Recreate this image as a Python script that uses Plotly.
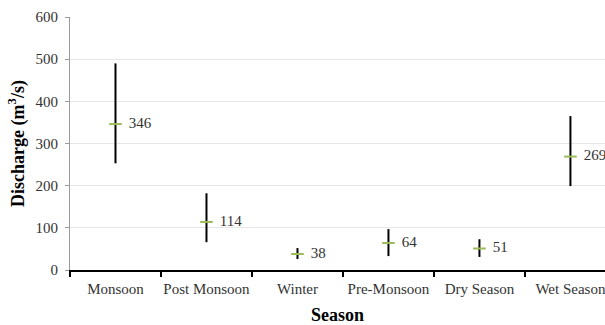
import plotly.graph_objects as go

seasons = ["Monsoon", "Post Monsoon", "Winter", "Pre-Monsoon", "Dry Season", "Wet Season"]
mean_q = [346, 114, 38, 64, 51, 269]
upper_q = [490, 182, 52, 97, 73, 365]
lower_q = [253, 66, 26, 33, 31, 199]

err_plus = [u - m for u, m in zip(upper_q, mean_q)]
err_minus = [m - l for m, l in zip(mean_q, lower_q)]

FONT = "Liberation Serif"

fig = go.Figure()
fig.add_trace(go.Scatter(
    x=seasons, y=mean_q,
    mode="markers+text",
    text=["\u2009 " + str(v) for v in mean_q],
    textposition="middle right",
    textfont=dict(family=FONT, size=15, color="#333333"),
    marker=dict(symbol="line-ew", size=9, line=dict(color="#9BBB59", width=2)),
    error_y=dict(type="data", symmetric=False, array=err_plus, arrayminus=err_minus,
                 color="black", thickness=2, width=0),
    showlegend=False,
    cliponaxis=False,
))

fig.update_layout(
    width=605, height=325,
    margin=dict(l=70, r=0, t=17, b=55),
    plot_bgcolor="white", paper_bgcolor="white",
    font=dict(family=FONT, size=15, color="#333333"),
    xaxis=dict(
        range=[-0.5, 5.38],
        tickson="boundaries",
        tickangle=0,
        ticks="outside", ticklen=5, tickcolor="black", tickwidth=2,
        showline=True, linecolor="black", linewidth=2,
        showgrid=False, automargin=False,
        ticklabelstandoff=4,
        tickfont=dict(family=FONT, size=15, color="#333333"),
        title=dict(text="<b>Season</b>", font=dict(family=FONT, size=18, color="black"), standoff=22),
    ),
    yaxis=dict(
        range=[0, 600], dtick=100,
        ticks="outside", ticklen=4, tickcolor="#999999",
        showline=True, linecolor="#999999", linewidth=1,
        showgrid=True, gridcolor="#E6E6E6", gridwidth=1,
        zeroline=False, automargin=False,
        ticklabelstandoff=4,
        tickfont=dict(family=FONT, size=15, color="#333333"),
        title=dict(text="<b>Discharge (m<sup>3</sup>/s)</b>", font=dict(family=FONT, size=18, color="black"), standoff=6),
    ),
)

fig.write_html("out.html")
